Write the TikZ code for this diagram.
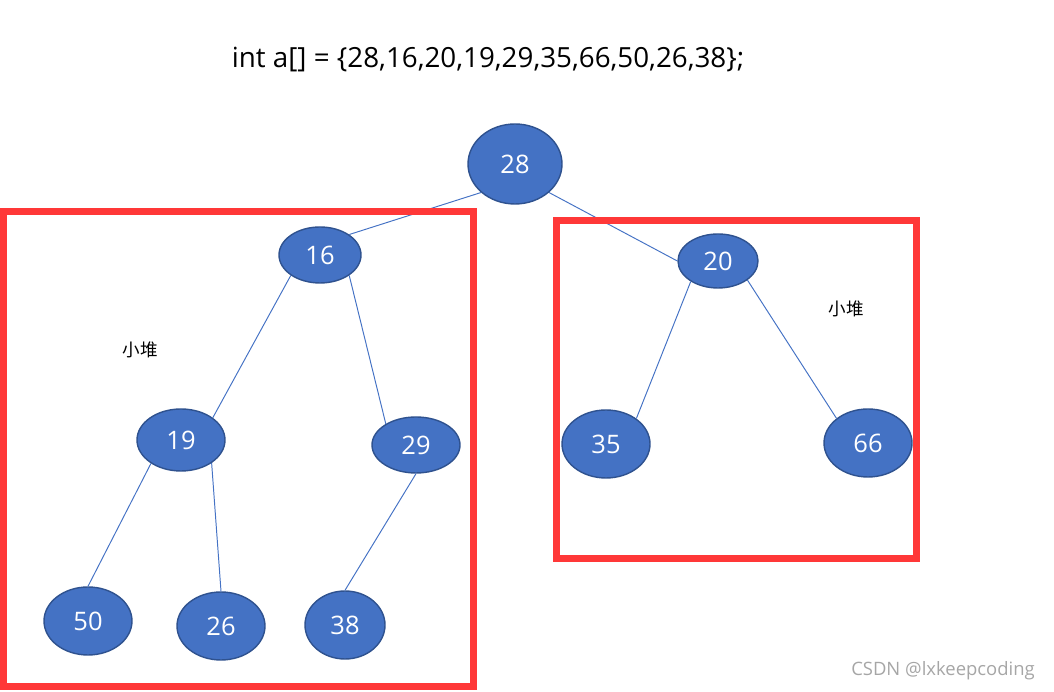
\documentclass[tikz,border=0pt]{standalone}
\usepackage{fontspec}
\setmainfont{Open Sans}
\newfontfamily\cjk{Noto Sans CJK SC}
\usepackage{xcolor}
\usepackage{tikz}
\usetikzlibrary{shapes.geometric}

\definecolor{heapfill}{HTML}{4472C4}
\definecolor{heapline}{HTML}{2F528F}
\definecolor{boxred}{HTML}{FF3838}

\begin{document}
\begin{tikzpicture}[
  key/.style={ellipse, draw=heapline, line width=0.8pt, fill=heapfill, text=white, inner sep=0pt, font=\fontsize{14.5}{17}\selectfont},
  link/.style={draw=heapfill, line width=0.55pt},
  frame/.style={draw=boxred, line width=0.14cm},
  note/.style={font=\cjk\fontsize{10}{12}\selectfont}
]
\useasboundingbox (0,0) rectangle (21.08,13.84);

\node[font=\fontsize{15.8}{18}\selectfont] (code) at (9.76,12.64) {int a[] = \{28,16,20,19,29,35,66,50,26,38\};};

\node[key, minimum width=1.88cm, minimum height=1.60cm] (n28) at (10.30,10.56) {28};
\node[key, minimum width=1.64cm, minimum height=1.12cm] (n16) at (6.40,8.74) {16};
\node[key, minimum width=1.60cm, minimum height=1.08cm] (n20) at (14.36,8.62) {20};
\node[key, minimum width=1.76cm, minimum height=1.24cm] (n19) at (3.62,5.04) {19};
\node[key, minimum width=1.76cm, minimum height=1.12cm] (n29) at (8.32,4.94) {29};
\node[key, minimum width=1.76cm, minimum height=1.36cm] (n35) at (12.12,4.96) {35};
\node[key, minimum width=1.76cm, minimum height=1.36cm] (n66) at (17.36,4.98) {66};
\node[key, minimum width=1.76cm, minimum height=1.36cm] (n50) at (1.76,1.42) {50};
\node[key, minimum width=1.76cm, minimum height=1.36cm] (n26) at (4.42,1.32) {26};
\node[key, minimum width=1.60cm, minimum height=1.36cm] (n38) at (6.90,1.34) {38};

\draw[link] (n28.220) -- (n16.35);
\draw[link] (n28.320) -- (n20.180);
\draw[link] (n16.215) -- (n19.35);
\draw[link] (n16.325) -- (n29.145);
\draw[link] (n20.217) -- (n35.40);
\draw[link] (n20.327) -- (n66.142);
\draw[link] (n19.218) -- (n50.90);
\draw[link] (n19.323) -- (n26.90);
\draw[link] (n29.270) -- (n38.90);

% the two sub heaps
\draw[frame] (0.07,0.11) rectangle (9.47,9.61);
\draw[frame] (11.13,2.67) rectangle (18.33,9.43);

\node[note] (leftnote) at (2.80,6.84) {小堆};
\node[note] (rightnote) at (16.92,7.66) {小堆};

\node[text=black!35, font=\fontsize{10.5}{12}\selectfont] (mark) at (18.86,0.42) {CSDN @lxkeepcoding};
\end{tikzpicture}
\end{document}
